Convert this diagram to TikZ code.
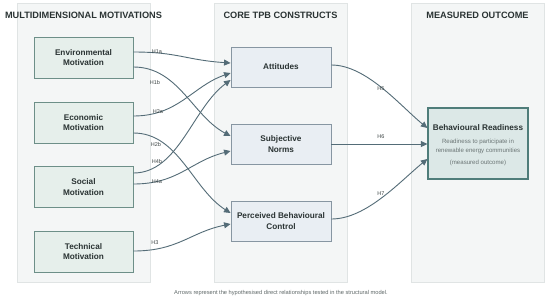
\documentclass[tikz,border=0pt]{standalone}
\usepackage{fontspec}
\setmainfont{Liberation Sans}
\usetikzlibrary{arrows.meta}
\definecolor{panelfill}{HTML}{F4F6F6}
\definecolor{panelborder}{HTML}{E0E4E4}
\definecolor{lbfill}{HTML}{E6EFEB}
\definecolor{lbborder}{HTML}{6D8F88}
\definecolor{mbfill}{HTML}{E9EEF3}
\definecolor{mbborder}{HTML}{8796A2}
\definecolor{rbfill}{HTML}{DCE8E7}
\definecolor{rbborder}{HTML}{4F7D7A}
\definecolor{arrowcol}{HTML}{546C77}
\definecolor{txt}{HTML}{2A3333}
\definecolor{subtxt}{HTML}{6B7575}
\begin{document}
\begin{tikzpicture}[x=1pt,y=-1pt,
  panel/.style={draw=panelborder,fill=panelfill,line width=0.6pt},
  ptitle/.style={font={\fontsize{9.2}{11}\selectfont\bfseries},text=txt,inner sep=0},
  lbox/.style={draw=lbborder,fill=lbfill,line width=0.9pt,minimum width=99pt,minimum height=41pt,inner sep=0,align=center,font={\fontsize{8.2}{10.5}\selectfont\bfseries},text=txt},
  mbox/.style={draw=mbborder,fill=mbfill,line width=0.9pt,minimum width=100pt,minimum height=40pt,inner sep=0,align=center,font={\fontsize{8.2}{10.5}\selectfont\bfseries},text=txt},
  rbox/.style={draw=rbborder,fill=rbfill,line width=1.2pt,minimum width=100pt,minimum height=71pt,inner sep=0},
  arr/.style={draw=arrowcol,line width=0.9pt,-{Triangle[length=6.5pt,width=6pt]}},
  hlab/.style={font={\fontsize{5.5}{6}\selectfont},text=txt!90,inner sep=0.5pt},
  subt/.style={font={\fontsize{6.1}{7}\selectfont},text=subtxt,inner sep=0}
]
\fill[white] (0,0) rectangle (550,301);
\useasboundingbox (0,0) rectangle (550,301);

% panels
\draw[panel] (17,3) rectangle (150,282);
\draw[panel] (214,3) rectangle (347,282);
\draw[panel] (411,3) rectangle (544,282);

\node[ptitle] (t1) at (83.5,15) {MULTIDIMENSIONAL MOTIVATIONS};
\node[ptitle] (t2) at (280.5,15) {CORE TPB CONSTRUCTS};
\node[ptitle] (t3) at (477.5,15) {MEASURED OUTCOME};

% left boxes
\node[lbox] (env) at (83.5,57.5) {Environmental\\Motivation};
\node[lbox] (econ) at (83.5,122.5) {Economic\\Motivation};
\node[lbox] (soc) at (83.5,187) {Social\\Motivation};
\node[lbox] (tech) at (83.5,251.5) {Technical\\Motivation};

% middle boxes
\node[mbox] (att) at (281,67) {Attitudes};
\node[mbox] (sn) at (281,144) {Subjective\\Norms};
\node[mbox] (pbc) at (281,221) {Perceived Behavioural\\Control};

% right box
\node[rbox] (br) at (478,143.5) {};
\node[font={\fontsize{8.2}{10}\selectfont\bfseries},text=txt,inner sep=0] (brt) at (478,127.3) {Behavioural Readiness};
\node[subt] (brs1) at (478,141.7) {Readiness to participate in};
\node[subt] (brs2) at (478,151) {renewable energy communities};
\node[subt] (brs3) at (478,162.7) {(measured outcome)};

% edges left -> middle
\draw[arr] ([yshift=5.5pt]env.east) .. controls +(45,0) and +(-45,-3) .. ([yshift=4pt]att.west);
\draw[arr] ([yshift=-9.5pt]env.east) .. controls +(45,0) and +(-38,-20) .. ([yshift=8pt]sn.west);
\draw[arr] ([yshift=6.5pt]econ.east) .. controls +(45,0) and +(-38,13) .. ([yshift=-6pt]att.west);
\draw[arr] ([yshift=-10.5pt]econ.east) .. controls +(45,0) and +(-38,-24) .. ([yshift=8pt]pbc.west);
\draw[arr] ([yshift=14pt]soc.east) .. controls +(45,0) and +(-38,28) .. ([yshift=-13pt]att.west);
\draw[arr] ([yshift=3pt]soc.east) .. controls +(45,0) and +(-40,10) .. ([yshift=-7pt]sn.west);
\draw[arr] ([yshift=0.5pt]tech.east) .. controls +(45,0) and +(-40,8) .. ([yshift=-3pt]pbc.west);

% edges middle -> right
\draw[arr] ([yshift=2pt]att.east) .. controls +(35,0) and +(-27,-22) .. ([yshift=15.5pt]br.west);
\draw[arr] (sn.east) -- (sn.east -| br.west);
\draw[arr] ([yshift=2pt]pbc.east) .. controls +(35,0) and +(-27,22) .. ([yshift=-15.5pt]br.west);

% edge labels
\node[hlab] (l1a) at (157,52) {H1a};
\node[hlab] (l1b) at (155,83) {H1b};
\node[hlab] (l2a) at (158,112) {H2a};
\node[hlab] (l2b) at (156,145) {H2b};
\node[hlab] (l4b) at (157,162) {H4b};
\node[hlab] (l4a) at (157,182) {H4a};
\node[hlab] (l3) at (155,243) {H3};
\node[hlab] (l5) at (381,89) {H5};
\node[hlab] (l6) at (381,137) {H6};
\node[hlab] (l7) at (381,194) {H7};

% footer
\node[font={\fontsize{5.7}{7}\selectfont},text=subtxt!90!black,inner sep=0] (foot) at (281,293) {Arrows represent the hypothesised direct relationships tested in the structural model.};
\end{tikzpicture}
\end{document}
